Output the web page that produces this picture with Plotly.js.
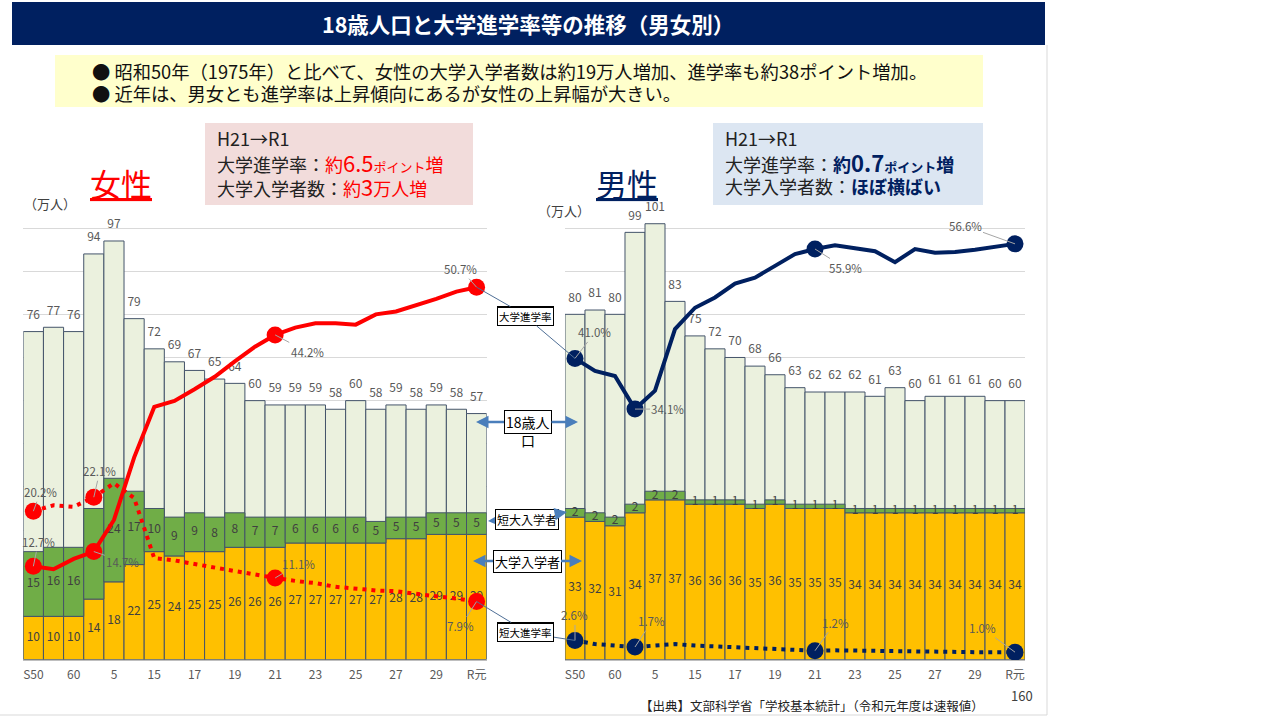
<!DOCTYPE html>
<html><head><meta charset="utf-8">
<script src="https://cdn.plot.ly/plotly-3.0.1.min.js"></script>
<style>body{margin:0;background:#fff}#chart{width:1280px;height:720px}</style>
</head><body><div id="chart"></div>
<script>
// ---- data ----
const categories = ['S50','S55','S60','H元','H5','H10','H15','H16','H17','H18','H19','H20','H21','H22','H23','H24','H25','H26','H27','H28','H29','H30','R元'];
const tickCats   = ['S50','S60','H5','H15','H17','H19','H21','H23','H25','H27','H29','R元'];
const tickLabels = ['S50','60','5','15','17','19','21','23','25','27','29','R元'];
const gridVals   = [10,20,30,40,50,60,70,80,90,100];

const femPop  = [76,77,76,94,97,79,72,69,67,65,64,60,59,59,59,58,60,58,59,58,59,58,57];
const femJC   = [15,16,16,21,24,17,10,9,9,8,8,7,7,6,6,6,6,5,5,5,5,5,5];
const femUniv = [10,10,10,14,18,22,25,24,25,25,26,26,26,27,27,27,27,27,28,28,29,29,29];
const femUnivRate = [12.7,12.3,13.7,14.7,19.0,27.5,34.4,35.2,36.8,38.5,40.6,42.6,44.2,45.2,45.8,45.8,45.6,47.0,47.4,48.2,49.1,50.1,50.7];
const femJCRate   = [20.2,21.0,20.8,22.1,24.0,22.0,13.8,13.5,13.0,12.5,12.0,11.6,11.1,10.7,10.4,9.9,9.6,9.4,9.3,8.9,8.6,8.3,7.9];

const malePop  = [80,81,80,99,101,83,75,72,70,68,66,63,62,62,62,61,63,60,61,61,61,60,60];
const maleJC   = [2,2,2,2,2,2,1,1,1,1,1,1,1,1,1,1,1,1,1,1,1,1,1];
const maleUniv = [33,32,31,34,37,37,36,36,36,35,36,35,35,35,34,34,34,34,34,34,34,34,34];
const maleUnivRate = [41.0,39.3,38.6,34.1,36.6,45.0,47.9,49.3,51.2,52.0,53.6,55.2,55.9,56.4,56.0,55.6,54.1,55.9,55.4,55.5,55.8,56.2,56.6];
const maleJCRate   = [2.6,2.1,1.9,1.7,1.9,2.1,1.9,1.8,1.6,1.5,1.4,1.3,1.2,1.25,1.2,1.15,1.1,1.1,1.1,1.05,1.0,1.0,1.0];

const highlight = [0,3,12,22];

// ---- styling ----
const F = '"Noto Sans CJK JP", "Noto Sans", sans-serif';
const NAVY = '#002060', RED = '#ff0000';
const W = 1280, H = 720;
const px = v => v / W, py = v => 1 - v / H;

function barTraces(pop, jc, univ, xa, ya) {
  const line = {color:'#44546a', width:1};
  const jcMid = jc.map((v,i)=> univ[i] + v/2);
  const uMid = univ.map(v => v/2);
  return [
    {type:'bar', x:categories, y:pop, xaxis:xa, yaxis:ya, marker:{color:'#ebf1de', line}, hoverinfo:'skip'},
    {type:'bar', x:categories, y:univ, xaxis:xa, yaxis:ya, marker:{color:'#ffc000', line}, hoverinfo:'skip'},
    {type:'bar', x:categories, y:jc, base:univ, xaxis:xa, yaxis:ya, marker:{color:'#70ad47', line}, hoverinfo:'skip'},
    {type:'scatter', mode:'markers+text', x:categories, y:pop, text:pop.map(String), textposition:'top center',
     marker:{size:14, opacity:0}, textfont:{size:12, color:'#595959', family:F}, xaxis:xa, yaxis:ya, cliponaxis:false, hoverinfo:'skip'},
    {type:'scatter', mode:'text', x:categories, y:uMid, text:univ.map(String), textposition:'middle center',
     textfont:{size:12, color:'#404040', family:F}, xaxis:xa, yaxis:ya, cliponaxis:false, hoverinfo:'skip'},
    {type:'scatter', mode:'text', x:categories, y:jcMid, text:jc.map(String), textposition:'middle center',
     textfont:{size:12, color:'#404040', family:F}, xaxis:xa, yaxis:ya, cliponaxis:false, hoverinfo:'skip'}
  ];
}
function lineTraces(univRate, jcRate, color, xa, ya) {
  const hx = highlight.map(i => categories[i]);
  return [
    {type:'scatter', mode:'lines', x:categories, y:univRate, xaxis:xa, yaxis:ya,
     line:{color, width:4}, cliponaxis:false, hoverinfo:'skip'},
    {type:'scatter', mode:'lines', x:categories, y:jcRate, xaxis:xa, yaxis:ya,
     line:{color, width:4, dash:'4px,5px'}, cliponaxis:false, hoverinfo:'skip'},
    {type:'scatter', mode:'markers', x:hx, y:highlight.map(i=>univRate[i]), xaxis:xa, yaxis:ya,
     marker:{color, size:17, opacity:1, line:{width:0}}, cliponaxis:false, hoverinfo:'skip'},
    {type:'scatter', mode:'markers', x:hx, y:highlight.map(i=>jcRate[i]), xaxis:xa, yaxis:ya,
     marker:{color, size:17, opacity:1, line:{width:0}}, cliponaxis:false, hoverinfo:'skip'}
  ];
}

const data = [
  ...barTraces(femPop, femJC, femUniv, 'x', 'y'),
  ...lineTraces(femUnivRate, femJCRate, RED, 'x', 'y2'),
  ...barTraces(malePop, maleJC, maleUniv, 'x2', 'y3'),
  ...lineTraces(maleUnivRate, maleJCRate, NAVY, 'x2', 'y4')
];

// percent labels
function pct(arr, idx, xref, yref, ax, ay) {
  return {x:categories[idx], y:arr[idx], xref, yref, text:arr[idx].toFixed(1)+'%',
    showarrow:true, ax, ay, arrowhead:0, arrowwidth:1, arrowcolor:'#a6a6a6', standoff:0,
    font:{size:11.5, color:'#595959', family:F}};
}
const pctAnns = [
  pct(femUnivRate,0,'x','y2',5,-24), pct(femUnivRate,3,'x','y2',29,10),
  pct(femUnivRate,12,'x','y2',32,17), pct(femUnivRate,22,'x','y2',-16,-18),
  pct(femJCRate,0,'x','y2',7,-19), pct(femJCRate,3,'x','y2',6,-26),
  pct(femJCRate,12,'x','y2',23,-14), pct(femJCRate,22,'x','y2',-16,25),
  pct(maleUnivRate,0,'x2','y4',20,-26), pct(maleUnivRate,3,'x2','y4',33,0),
  pct(maleUnivRate,12,'x2','y4',30,19), pct(maleUnivRate,22,'x2','y4',-50,-18),
  pct(maleJCRate,0,'x2','y4',0,-25), pct(maleJCRate,3,'x2','y4',17,-26),
  pct(maleJCRate,12,'x2','y4',20,-28), pct(maleJCRate,22,'x2','y4',-33,-24)
];

// callouts
const boxStyle = {bgcolor:'#fff', bordercolor:'#000', borderwidth:1, borderpad:1};
function leader(text, size, idx, arr, xref, yref, bx, by, mx, my) {
  return Object.assign({x:categories[idx], y:arr[idx], xref, yref, text, showarrow:true,
    ax:bx-mx, ay:by-my, arrowhead:0, arrowwidth:1, arrowcolor:'#4f6f96', standoff:0,
    font:{size, color:'#000', family:F}}, boxStyle);
}
function blueArrow(text, size, bx, by, tx, ty) {
  return Object.assign({x:px(tx), y:py(ty), xref:'paper', yref:'paper', text, showarrow:true,
    ax:bx-tx, ay:by-ty, arrowhead:2, arrowsize:1, arrowwidth:2.5, arrowcolor:'#4a7ebb', standoff:0,
    font:{size, color:'#000', family:F}}, boxStyle);
}
const calloutAnns = [
  leader('大学進学率', 10.5, 22, femUnivRate, 'x', 'y2', 526, 316, 476.6, 287.7),
  leader('大学進学率', 10.5, 0, maleUnivRate, 'x2', 'y4', 526, 316, 575, 357.5),
  leader('短大進学率', 10.5, 22, femJCRate, 'x', 'y2', 526, 632, 476.6, 602),
  leader('短大進学率', 10.5, 0, maleJCRate, 'x2', 'y4', 526, 632, 575, 639.5),
  blueArrow('18歳人', 14, 528, 422, 476, 422),
  blueArrow('18歳人', 14, 528, 422, 578, 422),
  {x:px(528), y:py(440), xref:'paper', yref:'paper', text:'口', showarrow:false, font:{size:14,color:'#000',family:F}},
  blueArrow('短大入学者', 12, 527, 519, 488, 521),
  blueArrow('短大入学者', 12, 527, 519, 567, 512),
  blueArrow('大学入学者', 13, 527, 561, 473, 561),
  blueArrow('大学入学者', 13, 527, 561, 582, 561)
];

function txt(text, x, y, size, color, xanchor, extra) {
  return Object.assign({x:px(x), y:py(y), xref:'paper', yref:'paper', text, showarrow:false,
    xanchor:xanchor||'center', yanchor:'middle', align:'left', font:{size, color, family:F}}, extra||{});
}
const redS = (t,s) => `<span style="color:${RED};font-size:${s}px">${t}</span>`;
const navS = (t,s) => `<span style="color:${NAVY};font-size:${s}px"><b>${t}</b></span>`;
const textAnns = [
  txt('<b>18歳人口と大学進学率等の推移（男女別）</b>', 528, 23, 21.5, '#fff'),
  txt('● 昭和50年（1975年）と比べて、女性の大学入学者数は約19万人増加、進学率も約38ポイント増加。', 90, 71, 18.3, '#111', 'left'),
  txt('● 近年は、男女とも進学率は上昇傾向にあるが女性の上昇幅が大きい。', 90, 93, 18.3, '#111', 'left'),
  txt('H21→R1', 215, 138, 18, '#222', 'left'),
  txt('大学進学率：' + redS('約',18) + redS('6.5',22) + redS('ポイント',13) + redS('増',18), 215, 162, 18, '#222', 'left'),
  txt('大学入学者数：' + redS('約',18) + redS('3',22) + redS('万人増',18), 215, 186, 18, '#222', 'left'),
  txt('H21→R1', 723, 138, 18, '#222', 'left'),
  txt('大学進学率：' + navS('約',18) + navS('0.7',22) + navS('ポイント',13) + navS('増',18), 723, 162, 18, '#222', 'left'),
  txt('大学入学者数：' + navS('ほぼ横ばい',18), 723, 186, 18, '#222', 'left'),
  txt('<u>女性</u>', 121, 182, 31, RED),
  txt('<u>男性</u>', 627, 182, 31, NAVY),
  txt('（万人）', 50, 203, 13, '#404040'),
  txt('（万人）', 564, 210, 13, '#404040'),
  txt('160', 1022, 695, 13, '#404040'),
  txt('【出典】文部科学省「学校基本統計」（令和元年度は速報値）', 812, 705, 12.5, '#222')
];

const rect = (x0,y0,x1,y1,fill) => ({type:'rect', xref:'paper', yref:'paper', x0:px(x0), x1:px(x1), y0:py(y1), y1:py(y0), fillcolor:fill, line:{width:0}, layer:'below'});
const shapes = [
  rect(12,2,1045,45,NAVY),
  rect(55,55,983,107,'#ffffcc'),
  rect(205,123,473,205,'#f2dcdb'),
  rect(713,123,983,205,'#dce6f2'),
  {type:'line', xref:'paper', yref:'paper', x0:px(1047), x1:px(1047), y0:py(45), y1:py(715), line:{color:'#d9d9d9', width:1}},
  {type:'line', xref:'paper', yref:'paper', x0:0, x1:px(1047), y0:py(715), y1:py(715), line:{color:'#d9d9d9', width:1}}
];

// plot area: value 0 at y=659.5px, value 100 at y=228px; extra headroom to 110 (no grid there)
const xCommon = {type:'category', categoryorder:'array', categoryarray:categories, range:[-0.5,22.5],
  tickmode:'array', tickvals:tickCats, ticktext:tickLabels, showline:true, linecolor:'#bfbfbf', linewidth:1,
  ticks:'', ticklabelstandoff:4, showgrid:false, zeroline:false, tickfont:{size:12, color:'#595959', family:F}, fixedrange:true};
const yCommon = {range:[0,110], tickmode:'array', tickvals:gridVals, showticklabels:false, showgrid:true,
  gridcolor:'#d9d9d9', zeroline:false, ticks:'', fixedrange:true};
const yRate = {range:[0,64.63], visible:false, showgrid:false, zeroline:false, fixedrange:true};
const YD = [1 - 659.5/720, 1 - 184.9/720];

const layout = {
  width:W, height:H, margin:{l:0,r:0,t:0,b:0}, paper_bgcolor:'#fff', plot_bgcolor:'rgba(0,0,0,0)',
  showlegend:false, barmode:'overlay', bargap:0, font:{family:F, color:'#595959'},
  xaxis: Object.assign({}, xCommon, {domain:[0.0182,0.3802], anchor:'y'}),
  yaxis: Object.assign({}, yCommon, {domain:YD, anchor:'x'}),
  yaxis2: Object.assign({}, yRate, {overlaying:'y', anchor:'x'}),
  xaxis2: Object.assign({}, xCommon, {domain:[0.4414,0.8008], anchor:'y3'}),
  yaxis3: Object.assign({}, yCommon, {domain:YD, anchor:'x2'}),
  yaxis4: Object.assign({}, yRate, {overlaying:'y3', anchor:'x2'}),
  shapes,
  annotations: [...textAnns, ...pctAnns, ...calloutAnns]
};
Plotly.newPlot('chart', data, layout, {displayModeBar:false, staticPlot:true});
</script></body></html>
